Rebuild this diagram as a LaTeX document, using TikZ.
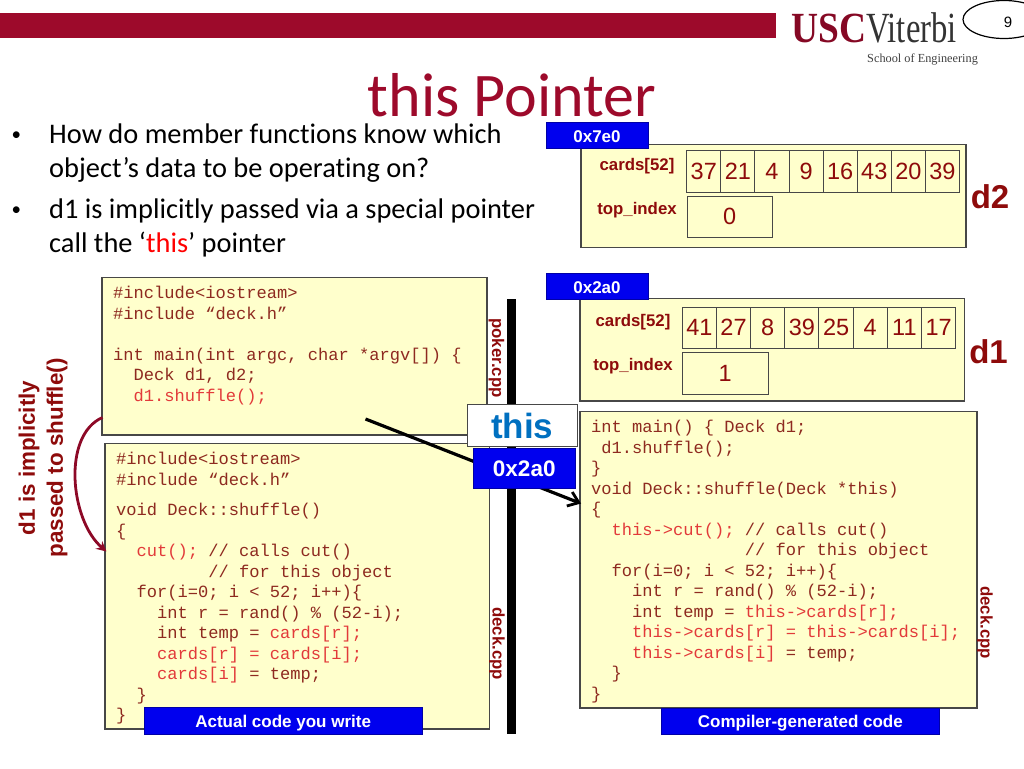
\documentclass[tikz,border=0pt]{standalone}
\usepackage{fontspec}
\setmainfont[Ligatures=NoCommon]{Carlito}
\setsansfont{Liberation Sans}
\setmonofont{Liberation Mono}
\newfontfamily\lserif{Liberation Serif}
\usetikzlibrary{arrows.meta,shapes.geometric}
\definecolor{usc}{HTML}{9D0A2B}
\definecolor{paper}{HTML}{FFFFCC}
\definecolor{lab}{HTML}{8E0B0B}
\definecolor{code}{HTML}{8E2A20}
\definecolor{hot}{HTML}{E23A3A}
\definecolor{bluefill}{HTML}{0000EE}
\definecolor{thiscol}{HTML}{0070C0}
\newcommand{\sz}[1]{\fontsize{#1}{#1}\selectfont}
\newcommand{\hi}[1]{\textcolor{hot}{#1}}
\newcommand{\ind}[1]{\hspace*{#1\dimexpr 10.25pt\relax}}
\newcommand{\cs}{\rule{0pt}{14pt}}
\newcommand{\placebox}[7]{%
  \pgfmathsetmacro{\bcx}{(#2+#4)/2}\pgfmathsetmacro{\bcy}{(#3+#5)/2}%
  \pgfmathsetmacro{\bw}{#4-#2}\pgfmathsetmacro{\bh}{#5-#3}%
  \node[#6,minimum width=\bw pt,minimum height=\bh pt] (#1) at (\bcx,\bcy) {#7};}
\newcommand{\dn}[2]{\rule{0pt}{#1pt}#2}
\tikzset{
  panel/.style={draw=black!72,line width=1.1pt,fill=paper,inner sep=0pt,outer sep=0pt},
  cellbox/.style={draw=black!72,line width=1pt,fill=paper,inner sep=0pt,outer sep=0pt,text=lab,font=\sffamily\sz{23.5}},
  tag/.style={fill=bluefill,draw=bluefill!70!black,line width=.6pt,inner sep=0pt,outer sep=0pt,text=white,font=\sffamily\bfseries\sz{17}},
  fieldlab/.style={text=lab,font=\sffamily\bfseries\sz{16.8},inner sep=0pt},
  objlab/.style={text=lab,font=\sffamily\bfseries\sz{33},inner sep=0pt},
  filelab/.style={text=lab,font=\sffamily\bfseries\sz{16.8},inner sep=0pt,rotate=-90},
  sidelab/.style={text=lab,font=\sffamily\bfseries\sz{22.4},inner sep=0pt,rotate=90},
  bodytext/.style={anchor=base west,inner sep=0pt,font=\sz{28.4}},
  bulletmark/.style={anchor=base west,inner sep=0pt,font=\sz{19}},
  codetext/.style={anchor=north west,inner sep=0pt,align=left,text=code,font=\ttfamily\frenchspacing\fontsize{17.08}{20.5}\selectfont},
}
\begin{document}
\begin{tikzpicture}[x=1pt,y=-1pt]
\useasboundingbox (0,0) rectangle (1024,768);
\clip (0,0) rectangle (1024,768);
% header
\placebox{bar}{0}{13}{776}{38}{fill=usc,inner sep=0pt}{}
\node[anchor=base west,inner sep=0pt,text=usc!85!black,font=\lserif\bfseries\sz{43}] (logoa) at (791,43) {\scalebox{.87}[1]{USC}};
\node[anchor=base west,inner sep=0pt,text=black!80,font=\lserif\sz{43}] (logob) at (866,43) {\scalebox{.76}[1]{Viterbi}};
\node[anchor=base west,inner sep=0pt,text=black!75,font=\lserif\sz{12.3}] (logoc) at (867,63) {School of Engineering};
\node[draw=black,line width=1.2pt,ellipse,minimum width=82pt,minimum height=38pt,inner sep=0pt] (pageno) at (1004,19.5) {};
\node[inner sep=0pt,font=\sffamily\sz{15}] (pagenum) at (1008,22) {9};
% title and bullets
\node[anchor=base,inner sep=0pt,text=usc,font=\sz{62}] (title) at (512,116.5) {this Pointer};
\node[bulletmark] (b1) at (11.5,140) {•};
\node[bodytext] (t1) at (49,143) {How do member functions know which};
\node[bodytext] (t2) at (49,177) {object’s data to be operating on?};
\node[bulletmark] (b2) at (11.5,215) {•};
\node[bodytext] (t3) at (49,218) {d1 is implicitly passed via a special pointer};
\node[bodytext] (t4) at (49,252) {call the ‘\textcolor{red}{this}’ pointer};
% d2
\placebox{dtwo}{581}{144.5}{966}{247.5}{panel}{}
\placebox{tagtwo}{546}{122}{648}{148}{tag}{\dn{15}{0x7e0}}
\node[fieldlab] (ctwo) at (637,166) {cards[52]};
\node[fieldlab] (ttwo) at (637,210) {top\_index};
\foreach \v [count=\i from 0] in {37,21,4,9,16,43,20,39}{
  \pgfmathsetmacro{\xa}{686.7+34.1*\i}\pgfmathsetmacro{\xb}{\xa+34.1}
  \placebox{dtc\i}{\xa}{150.7}{\xb}{192.3}{cellbox}{\v}
}
\placebox{dti}{687}{196}{772.5}{237.6}{cellbox}{0}
\node[objlab] (ldtwo) at (990,197) {d2};
% d1
\placebox{done}{580}{298.3}{964.3}{401}{panel}{}
\placebox{tagone}{546}{273}{648}{299}{tag}{\dn{15}{0x2a0}}
\node[fieldlab] (cone) at (633,322) {cards[52]};
\node[fieldlab] (tone) at (633,366) {top\_index};
\foreach \v [count=\i from 0] in {41,27,8,39,25,4,11,17}{
  \pgfmathsetmacro{\xa}{682.3+34.17*\i}\pgfmathsetmacro{\xb}{\xa+34.17}
  \placebox{doc\i}{\xa}{307}{\xb}{348.3}{cellbox}{\v}
}
\placebox{doi}{682.3}{352.3}{768}{394}{cellbox}{1}
\node[objlab] (ldone) at (988.5,352) {d1};
% divider
\placebox{divider}{507}{299}{516}{734}{fill=black,inner sep=0pt}{}
% code boxes
\placebox{topcode}{102}{277.5}{487}{435}{panel}{}
\node[codetext] (topcodetext) at (113,284.5) {\cs\#include<iostream>\\
\#include “deck.h”\\[20.45pt]
int main(int argc, char *argv[]) \{\\
\ind{2}Deck d1, d2;\\
\ind{2}\hi{d1.shuffle();}};
\placebox{lowcode}{105}{443.5}{489.5}{729}{panel}{}
\node[codetext] (lowcodetext) at (116,450.5) {\cs\#include<iostream>\\
\#include “deck.h”\\[10pt]
void Deck::shuffle()\\
\{\\
\ind{2}\hi{cut();} // calls cut()\\
\ind{9}// for this object\\
\ind{2}for(i=0; i < 52; i++)\{\\
\ind{4}int r = rand() \% (52-i);\\
\ind{4}int temp = \hi{cards[r];}\\
\ind{4}\hi{cards[r] = cards[i];}\\
\ind{4}\hi{cards[i]} = temp;\\
\ind{2}\}\\
\}};
\placebox{rightcode}{580}{411.7}{977}{708}{panel}{}
\node[codetext] (rightcodetext) at (591,418.5) {\cs int main() \{ Deck d1;\\
\ind{1}d1.shuffle();\\
\}\\
void Deck::shuffle(Deck *this)\\
\{\\
\ind{2}\hi{this->cut();} // calls cut()\\
\ind{15}// for this object\\
\ind{2}for(i=0; i < 52; i++)\{\\
\ind{4}int r = rand() \% (52-i);\\
\ind{4}int temp = \hi{this->cards[r];}\\
\ind{4}\hi{this->cards[r] = this->cards[i];}\\
\ind{4}\hi{this->cards[i]} = temp;\\
\ind{2}\}\\
\}};
% side labels
\node[filelab] (fpoker) at (496.5,358) {poker.cpp};
\node[filelab] (fdecka) at (497,643.5) {deck.cpp};
\node[filelab] (fdeckb) at (985,622.5) {deck.cpp};
\node[sidelab] (sideone) at (29,458) {d1 is implicitly};
\node[sidelab] (sidetwo) at (57,458) {passed to shuffle()};
% arrows
\coordinate (ptrfrom) at (365.5,419);
\coordinate (ptrto) at (581,503.5);
\draw[line width=3.2pt,-{Straight Barb[length=10pt,width=15pt,line width=2.8pt]}] (ptrfrom) -- (ptrto);
\coordinate (callfrom) at (102.5,417.5);
\coordinate (callto) at (106.5,551.5);
\draw[usc!90!black,line width=2.8pt,-{Stealth[length=10pt,width=10pt]}] (callfrom) .. controls (62,435) and (70,520) .. (callto);
% this
\placebox{thisbox}{467}{404.7}{577.5}{446.7}{draw=black!72,line width=1pt,fill=white,inner sep=0pt,outer sep=0pt,text=thiscol,font=\sffamily\bfseries\sz{35}}{this}
\placebox{thisval}{473.5}{448}{575}{488.5}{tag,font=\sffamily\bfseries\sz{22.5}}{0x2a0}
% captions
\placebox{capa}{144.3}{707.7}{422}{734}{tag}{\dn{17}{Actual code you write}}
\placebox{capb}{661.7}{708}{939}{734.5}{tag}{\dn{17}{Compiler-generated code}}
\end{tikzpicture}
\end{document}
